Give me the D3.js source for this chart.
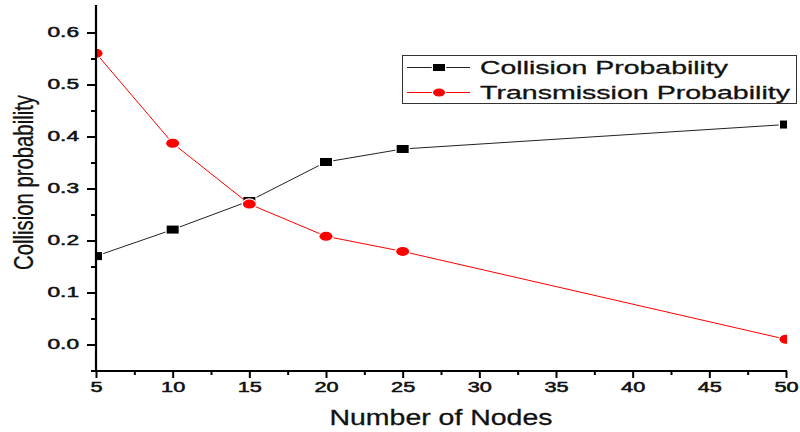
<!DOCTYPE html>
<html>
<head>
<meta charset="utf-8">
<script src="https://cdn.jsdelivr.net/npm/d3@7"></script>
<style>
  body { margin: 0; background: #fff; }
  text { font-family: "Liberation Sans", Arial, sans-serif; fill: #111; }
</style>
</head>
<body>
<div id="chart"></div>
<script>
// values
var nodes = [5, 10, 15, 20, 25, 50];
var collision = [0.170, 0.221, 0.276, 0.351, 0.376, 0.423];
var transmission = [0.560, 0.387, 0.270, 0.208, 0.179, 0.010];
var xTicks = [5, 10, 15, 20, 25, 30, 35, 40, 45, 50];
var xMinor = [7.5, 12.5, 17.5, 22.5, 27.5, 32.5, 37.5, 42.5, 47.5];
var yTicks = [0.0, 0.1, 0.2, 0.3, 0.4, 0.5, 0.6];
var yMinor = [-0.05, 0.05, 0.15, 0.25, 0.35, 0.45, 0.55];
var seriesNames = ["Collision Probability", "Transmission Probability"];

var width = 800, height = 432;
var plotLeft = 96, plotRight = 787, plotTop = 5, plotBottom = 371;

var svg = d3.select("#chart")
    .append("svg")
    .attr("width", width)
    .attr("height", height);

var x = d3.scaleLinear().domain([5, 50]).range([plotLeft, 786]);
var y = d3.scaleLinear().domain([-0.05, 0.65]).range([370.5, 6.5]);

// stretch text horizontally, the picture is wider than its font
function stretch(sel, k) {
    sel.each(function() {
        var w = this.getComputedTextLength();
        d3.select(this).attr("textLength", w * k).attr("lengthAdjust", "spacingAndGlyphs");
    });
}

svg.append("clipPath").attr("id", "plot")
    .append("rect")
    .attr("x", plotLeft).attr("y", plotTop)
    .attr("width", plotRight - plotLeft).attr("height", plotBottom - plotTop);

var plot = svg.append("g").attr("clip-path", "url(#plot)");

var pts = function(vals) { return nodes.map(function(n, i) { return [n, vals[i]]; }); };
var line = d3.line().x(function(d) { return x(d[0]); }).y(function(d) { return y(d[1]); });

// collision series
plot.append("path")
    .datum(pts(collision))
    .attr("d", line)
    .attr("fill", "none")
    .attr("stroke", "#222")
    .attr("stroke-width", 1);

plot.selectAll(".sq")
    .data(pts(collision))
    .enter()
    .append("rect")
    .attr("x", function(d) { return x(d[0]) - 6; })
    .attr("y", function(d) { return y(d[1]) - 4; })
    .attr("width", 12)
    .attr("height", 8)
    .attr("fill", "#000")
    .attr("stroke", "#fff")
    .attr("stroke-width", 2.5)
    .attr("paint-order", "stroke");

// transmission series
plot.append("path")
    .datum(pts(transmission))
    .attr("d", line)
    .attr("fill", "none")
    .attr("stroke", "#ff0000")
    .attr("stroke-width", 1);

plot.selectAll(".dot")
    .data(pts(transmission))
    .enter()
    .append("ellipse")
    .attr("cx", function(d) { return x(d[0]); })
    .attr("cy", function(d) { return y(d[1]); })
    .attr("rx", 6.5)
    .attr("ry", 4.5)
    .attr("fill", "#ff0000")
    .attr("stroke", "#fff")
    .attr("stroke-width", 2.5)
    .attr("paint-order", "stroke");

// y axis
var yAxis = svg.append("g")
    .attr("transform", "translate(" + plotLeft + ",0)")
    .call(d3.axisLeft(y).tickValues(yTicks).tickSize(9).tickPadding(8).tickFormat(d3.format(".1f")));
yAxis.select(".domain").remove();
yAxis.selectAll("line").attr("stroke", "#000").attr("stroke-width", 2);
yAxis.selectAll("text")
    .attr("font-size", 14)
    .attr("fill", "#111")
    .attr("stroke", "#111")
    .attr("stroke-width", 0.5)
    .style("font-family", "Liberation Sans, Arial, sans-serif")
    .call(stretch, 1.62);

svg.append("g")
    .attr("transform", "translate(" + plotLeft + ",0)")
    .call(d3.axisLeft(y).tickValues(yMinor).tickSize(5).tickFormat(""))
    .call(function(g) { g.select(".domain").remove(); })
    .selectAll("line").attr("stroke", "#000").attr("stroke-width", 2);

svg.append("line")
    .attr("x1", plotLeft).attr("x2", plotLeft)
    .attr("y1", plotTop).attr("y2", plotBottom + 1)
    .attr("stroke", "#000").attr("stroke-width", 2.2);

// x axis
var xAxis = svg.append("g")
    .attr("transform", "translate(0," + plotBottom + ")")
    .call(d3.axisBottom(x).tickValues(xTicks).tickSize(7).tickPadding(4));
xAxis.select(".domain").remove();
xAxis.selectAll("line").attr("stroke", "#000").attr("stroke-width", 2);
xAxis.selectAll("text")
    .attr("font-size", 14)
    .attr("fill", "#111")
    .attr("stroke", "#111")
    .attr("stroke-width", 0.5)
    .style("font-family", "Liberation Sans, Arial, sans-serif")
    .call(stretch, 1.55);

svg.append("g")
    .attr("transform", "translate(0," + plotBottom + ")")
    .call(d3.axisBottom(x).tickValues(xMinor).tickSize(4).tickFormat(""))
    .call(function(g) { g.select(".domain").remove(); })
    .selectAll("line").attr("stroke", "#000").attr("stroke-width", 2);

svg.append("line")
    .attr("x1", plotLeft - 1).attr("x2", plotRight)
    .attr("y1", plotBottom).attr("y2", plotBottom)
    .attr("stroke", "#000").attr("stroke-width", 2.2);

// axis titles
svg.append("text")
    .attr("x", 441)
    .attr("y", 425)
    .attr("text-anchor", "middle")
    .attr("font-size", 22)
    .attr("stroke", "#111")
    .attr("stroke-width", 0.3)
    .attr("textLength", 223)
    .attr("lengthAdjust", "spacingAndGlyphs")
    .text("Number of Nodes");

svg.append("text")
    .attr("transform", "translate(33,182.5) scale(1.4,1) rotate(-90)")
    .attr("text-anchor", "middle")
    .attr("font-size", 20)
    .attr("stroke", "#111")
    .attr("stroke-width", 0.2)
    .attr("textLength", 175)
    .attr("lengthAdjust", "spacingAndGlyphs")
    .text("Collision probability");

// legend
var legend = svg.append("g");
legend.append("rect")
    .attr("x", 402.5).attr("y", 55.5)
    .attr("width", 394).attr("height", 48)
    .attr("fill", "#fff")
    .attr("stroke", "#333")
    .attr("stroke-width", 1);

var legRows = [
    {name: seriesNames[0], color: "#000", line: "#222", shape: "square", y: 67.5, len: 248},
    {name: seriesNames[1], color: "#ff0000", line: "#ff0000", shape: "ellipse", y: 92.5, len: 310}
];

legRows.forEach(function(r) {
    legend.append("line")
        .attr("x1", 407).attr("x2", 470)
        .attr("y1", r.y).attr("y2", r.y)
        .attr("stroke", r.line).attr("stroke-width", 1);
    if (r.shape === "square") {
        legend.append("rect")
            .attr("x", 433).attr("y", r.y - 3.5)
            .attr("width", 12).attr("height", 7)
            .attr("fill", r.color)
            .attr("stroke", "#fff").attr("stroke-width", 2.5)
            .attr("paint-order", "stroke");
    } else {
        legend.append("ellipse")
            .attr("cx", 439).attr("cy", r.y)
            .attr("rx", 6).attr("ry", 4)
            .attr("fill", r.color)
            .attr("stroke", "#fff").attr("stroke-width", 2.5)
            .attr("paint-order", "stroke");
    }
    legend.append("text")
        .attr("x", 480)
        .attr("y", r.y + 6.8)
        .attr("font-size", 19)
        .attr("stroke", "#111")
        .attr("stroke-width", 0.3)
        .attr("textLength", r.len)
        .attr("lengthAdjust", "spacingAndGlyphs")
        .text(r.name);
});
</script>
</body>
</html>
